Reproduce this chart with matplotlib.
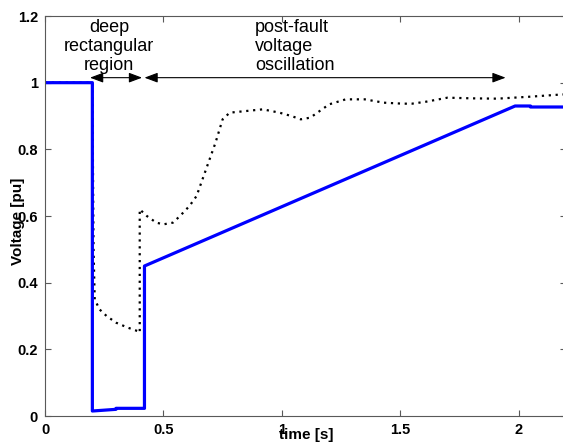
import matplotlib
matplotlib.use("Agg")
import matplotlib.pyplot as plt

# blue (thick) voltage trace
t_blue = [0, 0.2, 0.2, 0.3, 0.3, 0.42, 0.42, 1.985, 2.05, 2.05, 2.2]
v_blue = [1.0, 1.0, 0.015, 0.02, 0.023, 0.023, 0.45, 0.93, 0.93, 0.927, 0.927]

# dotted voltage trace
t_dot = [0, 0.2, 0.205, 0.21, 0.23, 0.26, 0.30, 0.35, 0.39, 0.40, 0.40, 0.43,
         0.47, 0.50, 0.54, 0.57, 0.61, 0.64, 0.68, 0.72, 0.75, 0.78, 0.85,
         0.92, 0.99, 1.04, 1.08, 1.12, 1.15, 1.20, 1.27, 1.35, 1.43, 1.51,
         1.55, 1.61, 1.70, 1.80, 1.91, 2.05, 2.17, 2.2]
v_dot = [1.0, 1.0, 0.5, 0.35, 0.32, 0.30, 0.28, 0.265, 0.255, 0.25, 0.62, 0.60,
         0.58, 0.575, 0.58, 0.60, 0.63, 0.66, 0.74, 0.82, 0.89, 0.91, 0.915,
         0.92, 0.91, 0.90, 0.89, 0.895, 0.91, 0.935, 0.95, 0.95, 0.94, 0.937,
         0.937, 0.943, 0.955, 0.953, 0.952, 0.958, 0.964, 0.965]

xticks = [0, 0.5, 1, 1.5, 2]
yticks = [0, 0.2, 0.4, 0.6, 0.8, 1, 1.2]

plt.rcParams['font.family'] = ['Liberation Sans', 'DejaVu Sans']

W, H = 563, 445
fig = plt.figure(figsize=(W / 100, H / 100), dpi=100)
ax = fig.add_axes([45 / W, 1 - 416 / H, 521 / W, 400 / H])

ax.plot(t_dot, v_dot, color='black', lw=1.6, dashes=(1, 2.1))
ax.plot(t_blue, v_blue, color='#0000ff', lw=2.3)

ax.set_xlim(0, 2.2)
ax.set_ylim(0, 1.2)
ax.set_xticks(xticks)
ax.set_xticklabels(['0', '0.5', '1', '1.5', '2'])
ax.set_yticks(yticks)
ax.set_yticklabels(['0', '0.2', '0.4', '0.6', '0.8', '1', '1.2'])
ax.tick_params(direction='in', length=4, width=0.8, color='0.35',
               top=True, right=True, labelsize=10.5, pad=5)
for lab in ax.get_xticklabels() + ax.get_yticklabels():
    lab.set_fontweight('bold')
for s in ax.spines.values():
    s.set_color('0.35')
    s.set_linewidth(0.8)

# labels overlap tick labels as in the original figure
ax.set_xlabel('time [s]', fontsize=11, fontweight='bold')
ax.xaxis.set_label_coords(261 / 521, -19 / 400)
ax.xaxis.label.set_va('center')
ax.set_ylabel('Voltage [pu]', fontsize=11, fontweight='bold')
ax.yaxis.set_label_coords(-27 / 521, 195 / 400)
ax.yaxis.label.set_va('center')

# annotations
ax.text(0.27, 1.108, 'deep\nrectangular\nregion', ha='center', va='center',
        fontsize=13, linespacing=1.15)
ax.text(0.886, 1.108, 'post-fault\nvoltage\noscillation', ha='left',
        va='center', fontsize=13, linespacing=1.15)
arrow_kw = dict(arrowstyle='<|-|>,head_length=0.8,head_width=0.3',
                color='black', lw=0.8, shrinkA=0, shrinkB=0)
ax.annotate('', xy=(0.41, 1.015), xytext=(0.19, 1.015), arrowprops=arrow_kw)
ax.annotate('', xy=(1.945, 1.015), xytext=(0.42, 1.015), arrowprops=arrow_kw)

fig.savefig('out.png', dpi=100)
